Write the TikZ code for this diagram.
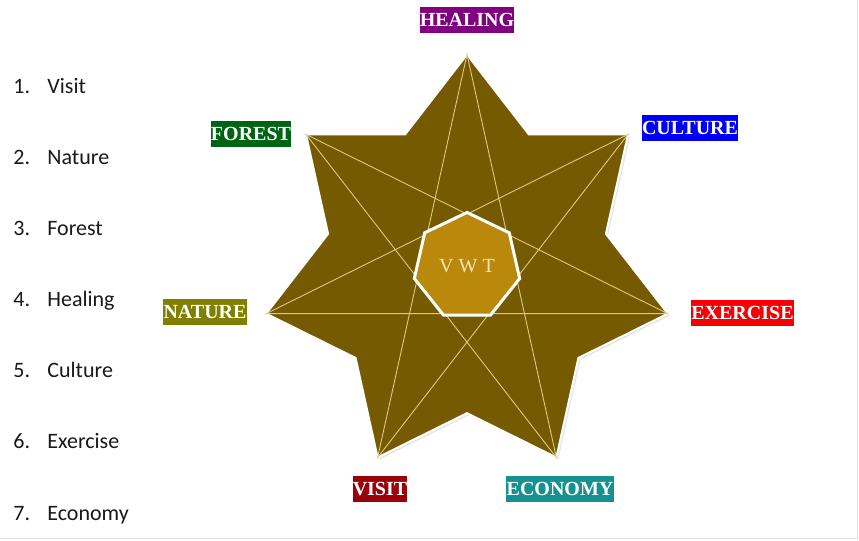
\documentclass[tikz,border=0pt]{standalone}
\usepackage{fontspec}
\setmainfont{Liberation Serif}
\newfontfamily\listfont{Carlito}
\usetikzlibrary{shapes.geometric,shadows}

\definecolor{starbrown}{RGB}{117,90,2}
\definecolor{coregold}{RGB}{186,136,10}
\definecolor{rayline}{RGB}{222,200,130}
\definecolor{coretext}{RGB}{246,230,182}
\definecolor{listgray}{RGB}{25,25,25}
\definecolor{healingcol}{RGB}{128,0,128}
\definecolor{culturecol}{RGB}{0,0,250}
\definecolor{exercisecol}{RGB}{245,0,5}
\definecolor{forestcol}{RGB}{0,100,20}
\definecolor{naturecol}{RGB}{128,128,0}
\definecolor{visitcol}{RGB}{155,0,10}
\definecolor{economycol}{RGB}{22,145,145}

\begin{document}
\begin{tikzpicture}[x=0.5pt,y=-0.5pt,
  tag/.style={fill=#1,text=white,font=\bfseries\fontsize{10}{12}\selectfont,
    inner xsep=0.1pt,inner ysep=0pt,minimum height=13pt},
  entry/.style={anchor=base west,inner sep=0pt,text=listgray,
    font=\listfont\fontsize{11}{13}\selectfont}]
  \useasboundingbox (0,0) rectangle (859,541);
  \draw[black!12] (0,538) -- (857,538) -- (857,0);

  % star, its rays and the core
  \begin{scope}[shift={(467,266.5)},y=0.5pt]
    \foreach \i in {0,...,6} {
      \coordinate (p\i) at ({90+\i*360/7}:206 and 212);
      \coordinate (q\i) at ({90+\i*360/7+180/7}:142.5 and 146.7);
    }
    \filldraw[fill=starbrown,draw=white,line width=1pt,
      drop shadow={opacity=0.2,shadow xshift=1pt,shadow yshift=-1pt}]
      (p0) \foreach \i/\j in {0/1,1/2,2/3,3/4,4/5,5/6} { -- (q\i) -- (p\j) }
      -- (q6) -- cycle;
    \draw[rayline,line width=0.45pt] (p0) -- (p3) -- (p6) -- (p2) -- (p5)
      -- (p1) -- (p4) -- cycle;
    \node[regular polygon,regular polygon sides=7,minimum size=51pt,
      fill=coregold,draw=white,line width=1.5pt,text=coretext,
      font=\fontsize{10}{12}\selectfont] (vwt) at (0,0) {V W T};
  \end{scope}

  % labels round the star
  \node[tag=healingcol] (healing) at (467,20) {HEALING};
  \node[tag=culturecol] (culture) at (690,127.5) {CULTURE};
  \node[tag=exercisecol] (exercise) at (742.5,313) {EXERCISE};
  \node[tag=economycol] (economy) at (560,489) {ECONOMY};
  \node[tag=visitcol] (visit) at (380,489) {VISIT};
  \node[tag=naturecol] (nature) at (205,311.5) {NATURE};
  \node[tag=forestcol] (forest) at (251,133.5) {FOREST};

  % numbered list
  \foreach \n/\w [count=\k from 0] in {1/Visit,2/Nature,3/Forest,4/Healing,
      5/Culture,6/Exercise,7/Economy} {
    \node[entry] (num\n) at (13,{93+71.17*\k}) {\n.};
    \node[entry] (item\n) at (47,{93+71.17*\k}) {\w};
  }
\end{tikzpicture}
\end{document}
